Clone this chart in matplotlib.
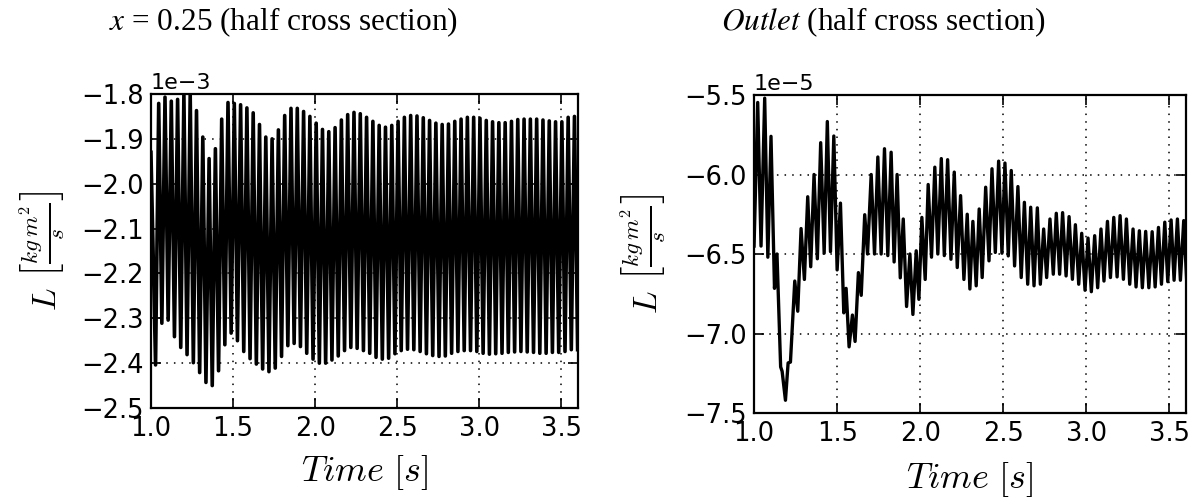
import numpy as np
import matplotlib.pyplot as plt
from matplotlib.ticker import FuncFormatter

left_start = -1.93
left_peaks = [-1.821, -1.807, -1.816, -1.812, -1.800, -1.800, -1.837, -1.896, -1.944, -1.922,
              -1.856, -1.819, -1.821, -1.824, -1.831, -1.842, -1.868, -1.896, -1.900, -1.880,
              -1.848, -1.832, -1.832, -1.839, -1.850, -1.865, -1.879, -1.884, -1.875, -1.858,
              -1.846, -1.841, -1.844,
              -1.852, -1.861, -1.870, -1.874, -1.870, -1.861, -1.852, -1.848, -1.849, -1.853,
              -1.859, -1.865, -1.868, -1.867, -1.861, -1.856, -1.852, -1.852, -1.854, -1.859,
              -1.862, -1.864, -1.864, -1.861, -1.857, -1.856, -1.856, -1.856, -1.858, -1.860,
              -1.862, -1.862, -1.852, -1.850]
left_troughs = [-2.404, -2.311, -2.304, -2.341, -2.365, -2.381, -2.399, -2.421, -2.443, -2.450,
                -2.417, -2.359, -2.333, -2.350, -2.374, -2.390, -2.402, -2.413, -2.419, -2.411,
                -2.385, -2.361, -2.356, -2.363, -2.378, -2.391, -2.400, -2.400, -2.393, -2.384,
                -2.372, -2.365, -2.367, -2.372,
                -2.378, -2.387, -2.391, -2.389, -2.379, -2.372, -2.369, -2.370, -2.374, -2.379,
                -2.383, -2.385, -2.384, -2.378, -2.374, -2.372, -2.372, -2.374, -2.378, -2.380,
                -2.379, -2.378, -2.376, -2.375, -2.374, -2.375, -2.376, -2.378, -2.378, -2.376,
                -2.376, -2.374, -2.370, -2.370]
left_first_trough = 1.028   # s
left_period = 0.03836       # s

# right panel, outlet: turning points (time, value in units of 1e-5)
right_t = [1.000, 1.022, 1.042, 1.064, 1.083, 1.102, 1.123, 1.138, 1.160, 1.169,
           1.189, 1.205, 1.219, 1.245, 1.263, 1.283, 1.303, 1.323, 1.341, 1.361,
           1.381, 1.401, 1.422, 1.441, 1.460, 1.480, 1.500, 1.520, 1.540, 1.554,
           1.572, 1.592, 1.608, 1.628, 1.645, 1.666, 1.683, 1.705, 1.725, 1.745,
           1.765, 1.785, 1.805, 1.825, 1.843, 1.861, 1.880, 1.898, 1.918, 1.938,
           1.956, 1.976, 1.992, 2.010, 2.030, 2.048, 2.068, 2.088, 2.106, 2.127,
           2.145, 2.165, 2.185, 2.205, 2.223, 2.243, 2.263, 2.283, 2.299, 2.317,
           2.337, 2.355, 2.373, 2.394, 2.414, 2.432, 2.452, 2.472, 2.492, 2.510,
           2.530, 2.548, 2.568, 2.588, 2.608, 2.627, 2.647, 2.665, 2.685, 2.705,
           2.723, 2.743, 2.761, 2.781, 2.801, 2.819, 2.839, 2.857, 2.878, 2.896,
           2.916, 2.934, 2.954, 2.972, 2.992, 3.010, 3.030, 3.050, 3.068, 3.088,
           3.106, 3.127, 3.145, 3.165, 3.185, 3.203, 3.223, 3.241, 3.261, 3.281,
           3.299, 3.319, 3.337, 3.357, 3.376, 3.396, 3.414, 3.434, 3.452, 3.472,
           3.490, 3.510, 3.528, 3.548, 3.566, 3.586, 3.604]
right_v = [-6.45, -5.547, -6.45, -5.52, -6.52, -5.76, -6.716, -6.50, -7.21, -7.238,
           -7.42, -7.185, -7.18, -6.67, -6.86, -6.34, -6.66, -6.14, -6.58, -6.00,
           -6.53, -5.80, -6.495, -5.667, -6.485, -5.758, -6.60, -6.18, -6.87, -6.716,
           -7.084, -6.884, -7.05, -6.617, -6.76, -6.253, -6.50, -6.00, -6.50, -5.89,
           -6.50, -5.838, -6.51, -5.86, -6.55, -6.00, -6.65, -6.28, -6.83, -6.50,
           -6.88, -6.48, -6.785, -6.27, -6.66, -6.063, -6.52, -5.954, -6.50, -5.90,
           -6.51, -5.907, -6.533, -5.985, -6.585, -6.133, -6.66, -6.25, -6.72, -6.295,
           -6.70, -6.217, -6.648, -6.08, -6.543, -5.964, -6.49, -5.916, -6.495, -5.928,
           -6.512, -5.975, -6.575, -6.076, -6.648, -6.175, -6.69, -6.206, -6.70, -6.21,
           -6.69, -6.343, -6.648, -6.28, -6.627, -6.244, -6.627, -6.24, -6.638, -6.265,
           -6.659, -6.316, -6.69, -6.37, -6.728, -6.40, -6.737, -6.385, -6.712, -6.343,
           -6.67, -6.295, -6.648, -6.27, -6.644, -6.259, -6.659, -6.28, -6.69, -6.343,
           -6.707, -6.354, -6.712, -6.358, -6.712, -6.36, -6.707, -6.333, -6.69, -6.30,
           -6.674, -6.286, -6.665, -6.28, -6.665, -6.29, -6.67]

xticks = [1.0, 1.5, 2.0, 2.5, 3.0, 3.5]
left_yticks = [-2.5, -2.4, -2.3, -2.2, -2.1, -2.0, -1.9, -1.8]
right_yticks = [-7.5, -7.0, -6.5, -6.0, -5.5]

TICK_FS = 18.5


def leftSeries():
    n_tr = len(left_troughs)
    t_tr = left_first_trough + left_period * np.arange(n_tr)
    t = [1.0]
    v = [left_start]
    for i in range(n_tr):
        t.append(t_tr[i])
        v.append(left_troughs[i])
        if i < len(left_peaks):
            t.append(t_tr[i] + left_period / 2)
            v.append(left_peaks[i])
    return np.array(t), np.array(v) * 1e-3


def styleAxes(ax, yticks, scale, offset_label, ylab_y, xlab_y):
    ax.set_xlim(1.0, 3.6)
    ax.set_ylim(yticks[0] * scale, yticks[-1] * scale)
    ax.set_xticks(xticks)
    ax.set_yticks([y * scale for y in yticks])
    ax.yaxis.set_major_formatter(
        FuncFormatter(lambda v, p: '{:.1f}'.format(v / scale).replace('-', '\u2212')))
    ax.grid(True, color='k', linestyle=(0, (1, 4)), linewidth=1.1)
    ax.tick_params(direction='in', length=7, width=1.2, labelsize=TICK_FS,
                   top=True, right=True)
    ax.tick_params(axis='x', pad=6)
    ax.tick_params(axis='y', pad=5)
    for sp in ax.spines.values():
        sp.set_linewidth(1.6)
    ax.text(0.0, 1.004, offset_label, transform=ax.transAxes, fontsize=16,
            ha='left', va='bottom')
    ax.set_xlabel(r'$Time\ [s]$', fontsize=26, math_fontfamily='cm')
    ax.xaxis.label.set_va('center')
    ax.xaxis.set_label_coords(0.5, xlab_y)
    ax.set_ylabel(r'$L\ \left[\frac{kg\,m^2}{s}\right]$', fontsize=24,
                  math_fontfamily='cm')
    ax.yaxis.label.set_va('center')
    ax.yaxis.set_label_coords(ylab_y, 0.5)


fig = plt.figure(figsize=(11.99, 5.0), dpi=100, facecolor='white')

ax1 = fig.add_axes([0.1259, 0.184, 0.3561, 0.628])
t1, v1 = leftSeries()
ax1.plot(t1, v1, color='k', linewidth=2.6, solid_joinstyle='round')
styleAxes(ax1, left_yticks, 1e-3, '1e\u22123', -0.255, -0.205)

ax2 = fig.add_axes([0.6289, 0.174, 0.3603, 0.636])
ax2.plot(right_t, np.array(right_v) * 1e-5, color='k', linewidth=2.4,
         solid_joinstyle='round')
styleAxes(ax2, right_yticks, 1e-5, '1e\u22125', -0.257, -0.21)

fig.text(0.091, 0.955, r'$x$ = 0.25 (half cross section)', fontsize=22.5,
         family='Liberation Serif', math_fontfamily='stix', va='center')
fig.text(0.601, 0.955, r'$\mathit{Outlet}$ (half cross section)', fontsize=22.5,
         family='Liberation Serif', math_fontfamily='stix', va='center')

fig.savefig('out.png', dpi=100, facecolor='white')
